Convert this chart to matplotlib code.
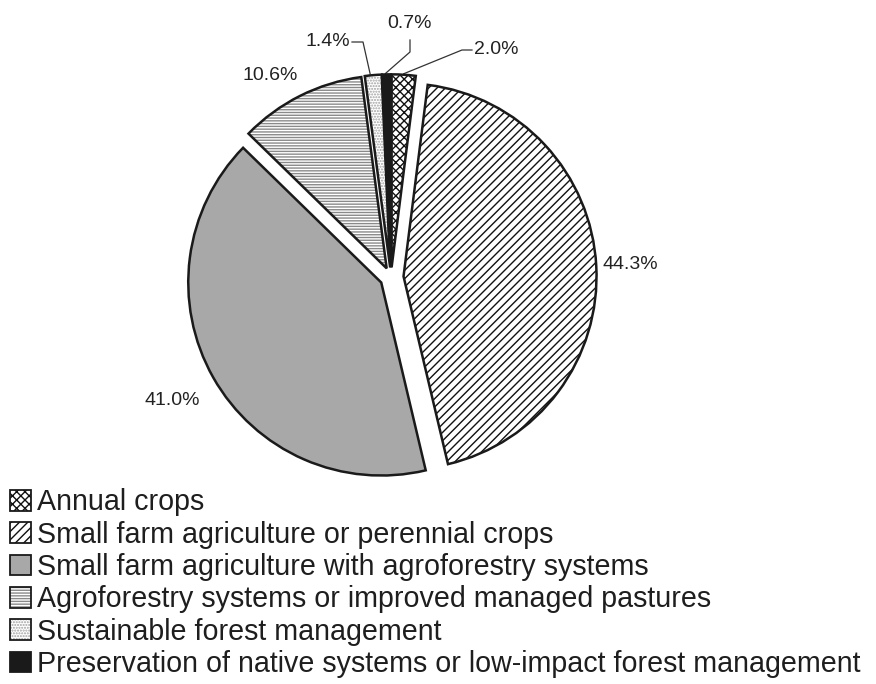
import matplotlib
matplotlib.use("Agg")
import matplotlib.pyplot as plt
from matplotlib.patches import Wedge, Patch
import numpy as np

plt.rcParams['font.family'] = ['Liberation Sans', 'DejaVu Sans']
plt.rcParams['hatch.linewidth'] = 1.0

categories = [
    "Annual crops",
    "Small farm agriculture or perennial crops",
    "Small farm agriculture with agroforestry systems",
    "Agroforestry systems or improved managed pastures",
    "Sustainable forest management",
    "Preservation of native systems or low-impact forest management",
]
values = [2.0, 44.3, 41.0, 10.6, 1.4, 0.7]
labels = ["2.0%", "44.3%", "41.0%", "10.6%", "1.4%", "0.7%"]

facecolors = ["white", "white", "#a8a8a8", "white", "white", "#1a1a1a"]
hatches = ["xxxx", "////", None, "------", "......", None]
hatchcolors = ["#111111", "#111111", "#a8a8a8", "#8a8a8a", "#a0a0a0", "#1a1a1a"]

W, H = 876, 684
fig = plt.figure(figsize=(W / 100, H / 100), dpi=100)
ax = fig.add_axes([0, 0, 1, 1])

cx, cy, R = 391, 407, 193
explode_frac = [0.05, 0.065, 0.058, 0.05, 0.05, 0.05]
explode = [e * R for e in explode_frac]

wedges, _ = ax.pie(values, startangle=90, counterclock=False, center=(cx, cy),
                   radius=R, explode=explode, frame=True)
ax.set_xlim(0, W)
ax.set_ylim(0, H)
ax.set_aspect('equal')
ax.axis('off')

for w, fc, h, hc in zip(wedges, facecolors, hatches, hatchcolors):
    w.set_facecolor(fc)
    w.set_edgecolor(hc)
    w.set_linewidth(0)
    if h:
        w.set_hatch(h)
    ol = Wedge(w.center, w.r, w.theta1, w.theta2, fill=False,
               edgecolor='#1a1a1a', linewidth=1.8, zorder=3)
    ax.add_patch(ol)

def edge_point(w, frac=1.0):
    th = np.deg2rad((w.theta1 + w.theta2) / 2)
    return (w.center[0] + w.r * frac * np.cos(th), w.center[1] + w.r * frac * np.sin(th))

label_fs = 14
big = {1: 1.24, 2: 1.30, 3: 1.22}
for i, d in big.items():
    w = wedges[i]
    th = np.deg2rad((w.theta1 + w.theta2) / 2)
    if i == 3:
        th = np.deg2rad(121)
    x = cx + R * d * np.cos(th)
    y = cy + R * d * np.sin(th)
    ax.text(x, y, labels[i], fontsize=label_fs, ha='center', va='center', color='#222222')

# small labels with leader lines
p = edge_point(wedges[0], 1.0)
ax.plot([p[0], 462, 472], [p[1] + 1, H - 50, H - 50], color='#333333', lw=0.9)
ax.text(474, H - 50, labels[0], fontsize=label_fs, ha='left', va='center', color='#222222')
p = edge_point(wedges[4], 1.0)
ax.plot([p[0] - 3, 363, 352], [p[1] + 1, H - 42, H - 42], color='#333333', lw=0.9)
ax.text(350, H - 42, labels[4], fontsize=label_fs, ha='right', va='center', color='#222222')
p = edge_point(wedges[5], 1.0)
ax.plot([p[0] - 1, 410, 410], [p[1] + 1, H - 52, H - 40], color='#333333', lw=0.9)
ax.text(409, H - 23, labels[5], fontsize=label_fs, ha='center', va='center', color='#222222')

handles = []
for fc, h, hc in zip(facecolors, hatches, hatchcolors):
    inner = Patch(facecolor=fc, edgecolor=hc, hatch=h, linewidth=0)
    outer = Patch(fill=False, edgecolor='#1a1a1a', linewidth=1.3)
    handles.append((inner, outer))

leg = fig.legend(handles, categories, loc='upper left', bbox_to_anchor=(0.011, 0.286),
                 frameon=False, fontsize=20.6, handlelength=0.73, handleheight=0.73,
                 handletextpad=0.24, labelspacing=0.15, borderpad=0.0, borderaxespad=0.0)
for t in leg.get_texts():
    t.set_color('#1e1e1e')

fig.savefig("out.png", dpi=100)
